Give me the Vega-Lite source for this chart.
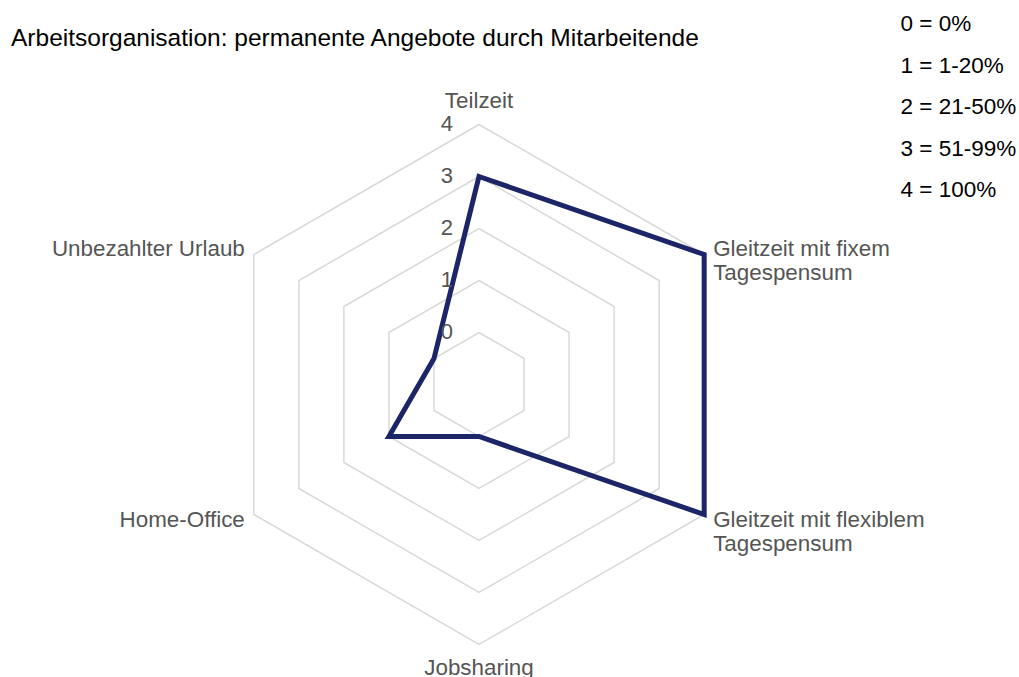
{
  "$schema": "https://vega.github.io/schema/vega-lite/v6.json",
  "width": 1019,
  "height": 677,
  "autosize": "none",
  "padding": 0,
  "background": "white",
  "config": {
    "view": {"stroke": null},
    "font": "Liberation Sans",
    "legend": {"padding": 0}
  },
  "title": {
    "text": "Arbeitsorganisation: permanente Angebote durch Mitarbeitende",
    "anchor": "start",
    "frame": "group",
    "font": "Liberation Sans",
    "fontSize": 24.5,
    "fontWeight": "normal",
    "color": "#000000",
    "dx": 11,
    "dy": 55
  },
  "datasets": {
    "kategorien": [
      {"kategorie": "Teilzeit", "position": 0, "stufe": 3},
      {"kategorie": "Gleitzeit mit fixem\nTagespensum", "position": 1, "stufe": 4},
      {"kategorie": "Gleitzeit mit flexiblem\nTagespensum", "position": 2, "stufe": 4},
      {"kategorie": "Jobsharing", "position": 3, "stufe": 0},
      {"kategorie": "Home-Office", "position": 4, "stufe": 1},
      {"kategorie": "Unbezahlter Urlaub", "position": 5, "stufe": 0}
    ],
    "stufen": [
      {"stufe": 0, "legende": "0 = 0%", "ecken": [0, 1, 2, 3, 4, 5]},
      {"stufe": 1, "legende": "1 = 1-20%", "ecken": [0, 1, 2, 3, 4, 5]},
      {"stufe": 2, "legende": "2 = 21-50%", "ecken": [0, 1, 2, 3, 4, 5]},
      {"stufe": 3, "legende": "3 = 51-99%", "ecken": [0, 1, 2, 3, 4, 5]},
      {"stufe": 4, "legende": "4 = 100%", "ecken": [0, 1, 2, 3, 4, 5]}
    ]
  },
  "layer": [
    {
      "data": {"name": "stufen"},
      "transform": [
        {"flatten": ["ecken"], "as": ["ecke"]},
        {"calculate": "(datum.stufe + 1) * sin(datum.ecke * PI / 3)", "as": "gx"},
        {"calculate": "(datum.stufe + 1) * cos(datum.ecke * PI / 3)", "as": "gy"}
      ],
      "mark": {"type": "line", "interpolate": "linear-closed", "strokeWidth": 1.5},
      "encoding": {
        "x": {"field": "gx", "type": "quantitative", "scale": {"domain": [-9.2115, 10.3846], "nice": false, "zero": false}, "axis": null},
        "y": {"field": "gy", "type": "quantitative", "scale": {"domain": [-5.625, 7.394], "nice": false, "zero": false}, "axis": null},
        "order": {"field": "ecke", "type": "quantitative"},
        "stroke": {
          "field": "legende",
          "type": "nominal",
          "scale": {"range": ["#d9d9d9", "#d9d9d9", "#d9d9d9", "#d9d9d9", "#d9d9d9"]},
          "legend": {
            "title": null,
            "orient": "none",
            "legendX": 878,
            "legendY": 13,
            "symbolSize": 0,
            "symbolStrokeWidth": 0,
            "symbolOpacity": 0,
            "labelOffset": 0,
            "labelFont": "Liberation Sans",
            "labelFontSize": 22.5,
            "labelColor": "#000000",
            "labelLimit": 300,
            "rowPadding": 18.5
          }
        }
      }
    },
    {
      "data": {"name": "kategorien"},
      "transform": [
        {"calculate": "(datum.stufe + 1) * sin(datum.position * PI / 3)", "as": "px"},
        {"calculate": "(datum.stufe + 1) * cos(datum.position * PI / 3)", "as": "py"}
      ],
      "mark": {"type": "line", "interpolate": "linear-closed", "stroke": "#1b2568", "strokeWidth": 5, "strokeJoin": "miter"},
      "encoding": {
        "x": {"field": "px", "type": "quantitative"},
        "y": {"field": "py", "type": "quantitative"},
        "order": {"field": "position", "type": "quantitative"}
      }
    },
    {
      "data": {"name": "stufen"},
      "transform": [
        {"calculate": "datum.stufe + 1", "as": "sy"}
      ],
      "mark": {"type": "text", "font": "Liberation Sans", "fontSize": 22, "color": "#555555", "align": "center", "baseline": "middle", "dx": -32},
      "encoding": {
        "x": {"datum": 0, "type": "quantitative"},
        "y": {"field": "sy", "type": "quantitative"},
        "text": {"field": "stufe", "type": "nominal"}
      }
    },
    {
      "data": {"name": "kategorien"},
      "transform": [
        {"filter": "datum.position == 0 || datum.position == 3"},
        {"calculate": "5.45 * sin(datum.position * PI / 3)", "as": "lx"},
        {"calculate": "5.45 * cos(datum.position * PI / 3)", "as": "ly"}
      ],
      "mark": {"type": "text", "font": "Liberation Sans", "fontSize": 22.4, "color": "#555555", "align": "center", "baseline": "middle", "lineBreak": "\n", "lineHeight": 24},
      "encoding": {
        "x": {"field": "lx", "type": "quantitative"},
        "y": {"field": "ly", "type": "quantitative"},
        "text": {"field": "kategorie", "type": "nominal"}
      }
    },
    {
      "data": {"name": "kategorien"},
      "transform": [
        {"filter": "datum.position == 1 || datum.position == 2"},
        {"calculate": "5.2 * sin(datum.position * PI / 3)", "as": "lx"},
        {"calculate": "5.2 * cos(datum.position * PI / 3)", "as": "ly"}
      ],
      "mark": {"type": "text", "font": "Liberation Sans", "fontSize": 22.4, "color": "#555555", "align": "left", "baseline": "middle", "lineBreak": "\n", "lineHeight": 24},
      "encoding": {
        "x": {"field": "lx", "type": "quantitative"},
        "y": {"field": "ly", "type": "quantitative"},
        "text": {"field": "kategorie", "type": "nominal"}
      }
    },
    {
      "data": {"name": "kategorien"},
      "transform": [
        {"filter": "datum.position == 4 || datum.position == 5"},
        {"calculate": "5.2 * sin(datum.position * PI / 3)", "as": "lx"},
        {"calculate": "5.2 * cos(datum.position * PI / 3)", "as": "ly"}
      ],
      "mark": {"type": "text", "font": "Liberation Sans", "fontSize": 22.4, "color": "#555555", "align": "right", "baseline": "middle", "lineBreak": "\n", "lineHeight": 24},
      "encoding": {
        "x": {"field": "lx", "type": "quantitative"},
        "y": {"field": "ly", "type": "quantitative"},
        "text": {"field": "kategorie", "type": "nominal"}
      }
    }
  ]
}
